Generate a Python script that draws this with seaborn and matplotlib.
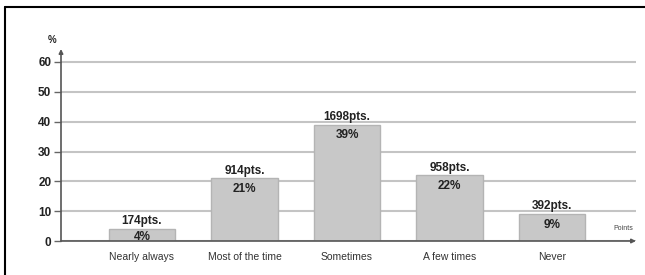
import matplotlib
matplotlib.use("Agg")
import matplotlib.pyplot as plt
from matplotlib.lines import Line2D
import pandas as pd
import seaborn as sns

categories = ["Nearly always", "Most of the time", "Sometimes", "A few times", "Never"]
percent = [4, 21, 39, 22, 9]
points = [174, 914, 1698, 958, 392]
y_ticks = [0, 10, 20, 30, 40, 50, 60]

df = pd.DataFrame({"answer": categories, "pct": percent, "pts": points})

sns.set_style("white")
plt.rcParams["font.family"] = ["Liberation Sans", "DejaVu Sans"]

W, H = 645, 275
fig = plt.figure(figsize=(W / 100, H / 100), dpi=100)
ax = fig.add_axes([61 / W, 1 - 241 / H, (636 - 61) / W, (241 - 49) / H])

ax.set_axisbelow(True)
for t in y_ticks:
    ax.axhline(t, color="#c4c4c4", lw=1.5, zorder=0)

sns.barplot(data=df, x="answer", y="pct", color="#c8c8c8", width=0.65,
            edgecolor="#b4b4b4", linewidth=1, saturation=1, ax=ax, zorder=2)

ax.set_xlim(-0.79, 4.82)
ax.set_ylim(0, 60 * 192 / 179)
ax.set_yticks(y_ticks)
ax.set_yticklabels([str(t) for t in y_ticks], fontsize=8.5, fontweight="bold", color="#222222")
ax.tick_params(axis="y", length=5, width=1, color="#666666", pad=2, left=True)
ax.tick_params(axis="x", length=0, pad=8, labelsize=7.5, labelcolor="#333333")
ax.set_xlabel("")
ax.set_ylabel("")
for s in ax.spines.values():
    s.set_visible(False)

# axis arrows
ax.annotate("", xy=(0, 1), xytext=(0, 0), xycoords="axes fraction",
            arrowprops=dict(arrowstyle="-|>", color="#555555", lw=1.2,
                            mutation_scale=6, shrinkA=0, shrinkB=0))
ax.annotate("", xy=(1, 0), xytext=(0, 0), xycoords="axes fraction",
            arrowprops=dict(arrowstyle="-|>", color="#555555", lw=1.2,
                            mutation_scale=6, shrinkA=0, shrinkB=0))

for i, (p, n) in enumerate(zip(percent, points)):
    ax.text(i, p + 0.6, f"{n}pts.", ha="center", va="bottom", fontsize=8.5,
            fontweight="bold", color="#222222")
    ax.text(i, max(p - 1.5, 3.3), f"{p}%", ha="center", va="top", fontsize=8.5,
            fontweight="bold", color="#222222")

fig.text(52 / W, 1 - 40 / H, "%", ha="center", va="center", fontsize=7,
         fontweight="bold", color="#222222")
fig.text(623 / W, 1 - 229 / H, "Points", ha="center", va="center", fontsize=5,
         color="#444444")

# outer frame (top and left edges)
fig.add_artist(Line2D([5 / W, 1], [1 - 7 / H, 1 - 7 / H], transform=fig.transFigure,
                      color="black", lw=1.5))
fig.add_artist(Line2D([5 / W, 5 / W], [0, 1 - 7 / H], transform=fig.transFigure,
                      color="black", lw=1.5))

fig.savefig("out.png", dpi=100)
plt.close(fig)
